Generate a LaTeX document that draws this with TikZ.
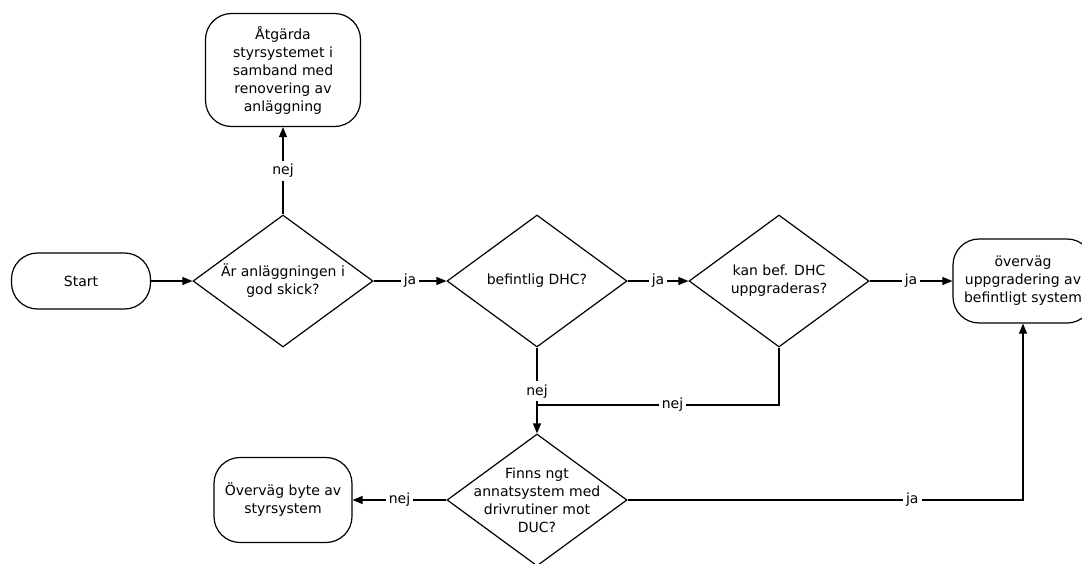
\documentclass[tikz,border=0pt]{standalone}
\usepackage{fontspec}
\setmainfont{DejaVu Sans}
\usetikzlibrary{arrows.meta}
\usetikzlibrary{shapes.geometric}
\tikzstyle{stage}=[draw,rounded corners=26pt,align=center,inner sep=0pt]
\tikzstyle{decide}=[draw,diamond,minimum width=180pt,minimum height=132pt,inner sep=0pt]
\tikzstyle{qtext}=[align=center]
\tikzstyle{flowhead}=[>/.tip={Triangle[length=10pt,width=8pt]}]
\tikzstyle{flow}=[flowhead,->]
\tikzstyle{answer}=[fill=white,inner sep=3pt]

\begin{document}
\begin{tikzpicture}[x=1pt,y=-1pt,line width=1.2pt,font=\fontsize{14}{18}\selectfont]
	\useasboundingbox (0,0) rectangle (1082,563);
	\node[stage,minimum width=139pt,minimum height=56pt] (start) at (81,281) {Start};
	\node[decide,label={[qtext]center:Är anläggningen i\\god skick?}] (cond) at (283,281) {};
	\node[stage,minimum width=155pt,minimum height=113pt] (fix) at (283,70) {Åtgärda\\styrsystemet i\\samband med\\renovering av\\anläggning};
	\node[decide,label={[qtext]center:befintlig DHC?}] (dhc) at (537,281) {};
	\node[decide,label={[qtext]center:kan bef. DHC\\uppgraderas?}] (upg) at (779,281) {};
	\node[stage,minimum width=140pt,minimum height=84pt] (keep) at (1023,281) {överväg\\uppgradering av\\befintligt system};
	\node[decide,label={[qtext]center:Finns ngt\\annatsystem med\\drivrutiner mot\\DUC?}] (other) at (537,500) {};
	\node[stage,minimum width=138pt,minimum height=85pt] (swap) at (283,500) {Överväg byte av\\styrsystem};
	\coordinate (join) at (537,405);
	\draw[flow] (start) -- (cond);
	\draw[flow] (cond) --node[answer]{nej} (fix);
	\draw[flow] (cond) --node[answer]{ja} (dhc);
	\draw[flow] (dhc) --node[answer]{ja} (upg);
	\draw[flow] (upg) --node[answer]{ja} (keep);
	\draw (dhc) --node[answer,pos=.76]{nej} (join);
	\draw (upg) |-node[answer,pos=.72]{nej} (join);
	\draw[flow] (join) -- (other);
	\draw[flow] (other) --node[answer]{nej} (swap);
	\draw[flow] (other) -|node[answer,pos=.36]{ja} (keep);
\end{tikzpicture}
\end{document}
